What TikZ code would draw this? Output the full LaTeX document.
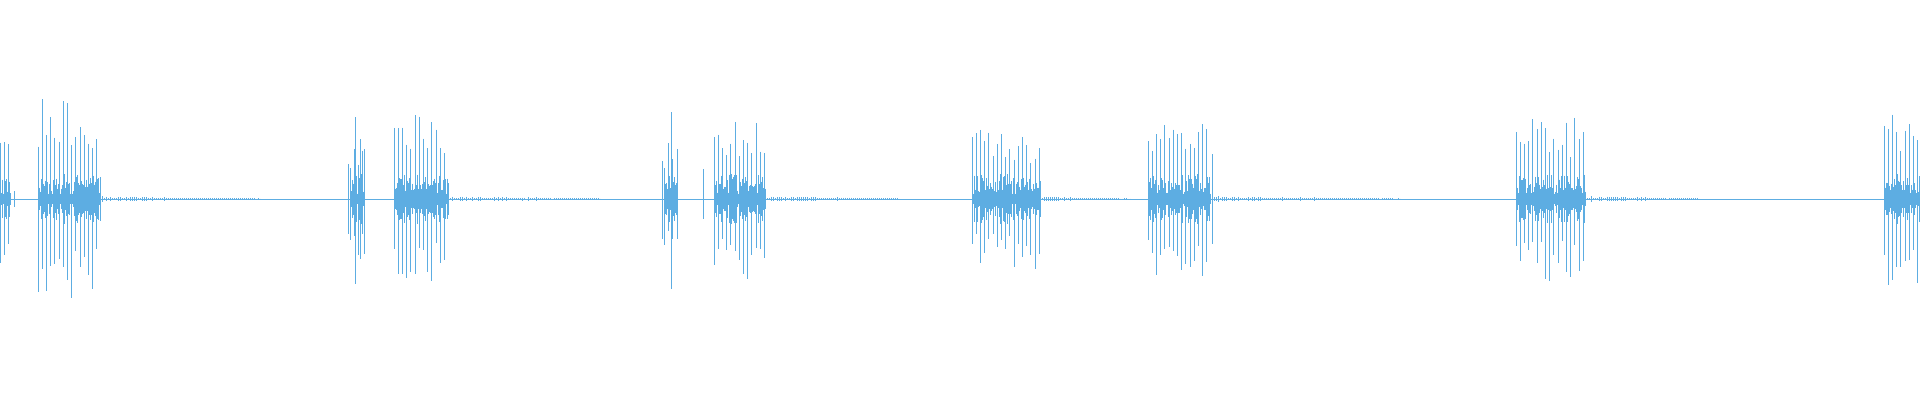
\documentclass[tikz,border=0pt]{standalone}
\definecolor{wavec}{HTML}{5DADE2}
\begin{document}
\begin{tikzpicture}[x=1pt,y=-1pt,wave/.style={draw=wavec,line width=0.7pt},fine/.style={draw=wavec,line width=0.4pt}]
\useasboundingbox (0,0) rectangle (1920,400);
\pgfmathsetseed{11}
\draw[fine] (0,199) -- (1920,199);
% noise tails
\foreach \ta/\tb in {100/260,448/600,765/900,1040/1130,1210/1400,1585/1700}{
  \pgfmathtruncatemacro\tn{(\tb-\ta)/2}
  \foreach \k in {0,...,\tn}{
    \pgfmathsetmacro\xx{\ta+2*\k}
    \pgfmathsetmacro\amp{0.5+2.5*rnd*(\tn-\k)/\tn}
    \pgfmathsetmacro\ytop{199-\amp}
    \pgfmathsetmacro\ybot{199+\amp}
    \draw[fine] (\xx,\ytop) -- (\xx,\ybot);}}
% bursts: start/end/amplitude
\foreach \ba/\bb/\bh in {0/10/75, 38/100/100, 350/364/60, 394/448/85, 664/676/60, 714/765/80, 972/1040/70, 1148/1210/82, 1516/1585/82, 1884/1920/90}{
  \pgfmathtruncatemacro\bn{(\bb-\ba)/4.2}
  \foreach \k in {0,...,\bn}{
    \pgfmathsetmacro\xx{\ba+4.2*\k}
    \pgfmathsetmacro\ytop{199-\bh*(0.5+0.5*rnd)}
    \pgfmathsetmacro\ybot{199+\bh*(0.5+0.5*rnd)}
    \draw[wave] (\xx,\ytop) -- (\xx,\ybot);}
  \pgfmathtruncatemacro\bm{\bb-\ba}
  \foreach \k in {0,...,\bm}{
    \pgfmathsetmacro\xx{\ba+\k}
    \pgfmathsetmacro\vv{5+20*rnd}
    \pgfmathsetmacro\ytop{199-\vv}
    \pgfmathsetmacro\ybot{199+\vv}
    \draw[fine] (\xx,\ytop) -- (\xx,\ybot);}}
% isolated spikes
\foreach \sx/\su/\sd in {14/8/8, 348/35/35, 355/82/85, 360/60/60, 364/50/55, 662/38/40, 671/87/90, 677/50/40, 703/30/20, 1212/45/45, 1202/75/70}{
  \draw[wave] (\sx,199-\su) -- (\sx,199+\sd);}
\end{tikzpicture}
\end{document}
